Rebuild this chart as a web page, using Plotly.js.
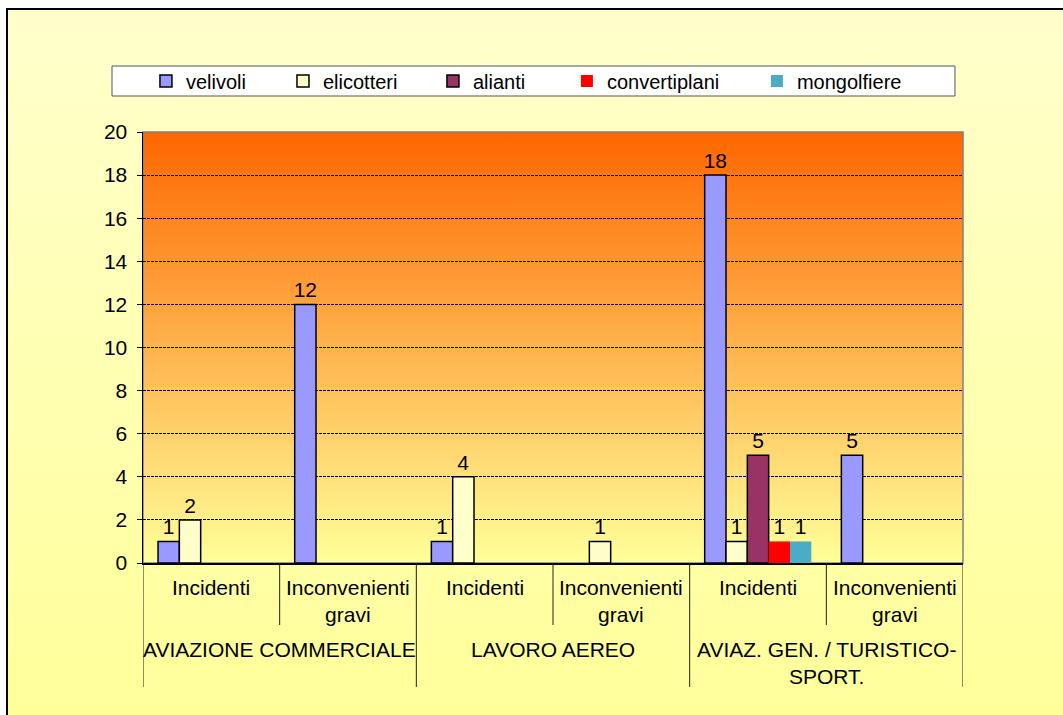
<!DOCTYPE html>
<html>
<head>
<meta charset="utf-8">
<script src="https://cdn.plot.ly/plotly-3.0.1.min.js"></script>
<style>
html,body{margin:0;padding:0;background:#fff;width:1063px;height:715px;overflow:hidden;}
#frame{position:absolute;left:6px;top:8px;width:1100px;height:720px;border-left:2px solid #000;border-top:2px solid #000;background:linear-gradient(to bottom,#FFFFCC,#FFFF99);}
#plotbg{position:absolute;left:143px;top:132px;width:820px;height:431px;background:linear-gradient(to bottom,#FF6600,#FFFF99);}
#chart{position:absolute;left:0;top:0;width:1063px;height:715px;}
</style>
</head>
<body>
<div id="frame"></div>
<div id="plotbg"></div>
<div id="chart"></div>
<script>
// ---- data ----
const groupLabels = ['AVIAZIONE COMMERCIALE', 'LAVORO AEREO', 'AVIAZ. GEN. / TURISTICO-<br>SPORT.'];
const subLabels = ['Incidenti', 'Inconvenienti<br>gravi'];
const categories = [
  'AVIAZIONE COMMERCIALE - Incidenti',
  'AVIAZIONE COMMERCIALE - Inconvenienti gravi',
  'LAVORO AEREO - Incidenti',
  'LAVORO AEREO - Inconvenienti gravi',
  'AVIAZ. GEN. / TURISTICO-SPORT. - Incidenti',
  'AVIAZ. GEN. / TURISTICO-SPORT. - Inconvenienti gravi'
];
const seriesNames = ['velivoli', 'elicotteri', 'alianti', 'convertiplani', 'mongolfiere'];
const velivoli      = [1, 12, 1, 0, 18, 5];
const elicotteri    = [2, 0, 4, 1, 1, 0];
const alianti       = [0, 0, 0, 0, 5, 0];
const convertiplani = [0, 0, 0, 0, 1, 0];
const mongolfiere   = [0, 0, 0, 0, 1, 0];
const yTicks = [0, 2, 4, 6, 8, 10, 12, 14, 16, 18, 20];

// ---- styling ----
const FONT = 'Liberation Sans, Arial, sans-serif';
const FS = 21;
const seriesValues = [velivoli, elicotteri, alianti, convertiplani, mongolfiere];
const colors = ['#9999FF', '#FFFFCC', '#993366', '#FF0000', '#4BACC6'];
const outline = [1.5, 1.5, 1.5, 0, 0];
const legendIds = ['legend', 'legend2', 'legend3', 'legend4', 'legend5'];
const legendX = [0.0036, 0.1707, 0.3536, 0.5170, 0.7487];

const traces = seriesNames.map((name, i) => ({
  type: 'bar',
  name: name,
  x: categories,
  // zero values are not drawn (as in the original chart)
  y: seriesValues[i].map(v => v === 0 ? null : v),
  text: seriesValues[i].map(v => v ? String(v) : ''),
  textposition: 'outside',
  textangle: 0,
  constraintext: 'none',
  cliponaxis: false,
  outsidetextfont: {family: FONT, size: FS, color: '#000'},
  marker: {color: colors[i], line: {color: '#000', width: outline[i]}},
  legend: legendIds[i],
  showlegend: true,
  hoverinfo: 'skip'
}));

const shapes = [];
// plot area border
shapes.push({type: 'rect', xref: 'paper', yref: 'paper', x0: 0, x1: 1, y0: 0, y1: 1,
  line: {color: '#808080', width: 1.5}, layer: 'below'});
// legend box
shapes.push({type: 'rect', xref: 'paper', yref: 'paper', x0: -0.0378, x1: 0.9902, y0: 1.0835, y1: 1.1531,
  fillcolor: '#FFFFFF', line: {color: '#555555', width: 1}, layer: 'below'});
// category dividers
for (let k = 0; k <= categories.length; k++) {
  const isGroup = (k % 2 === 0);
  shapes.push({type: 'line', xref: 'x', yref: 'paper', x0: k - 0.5, x1: k - 0.5,
    y0: 0, y1: isGroup ? -0.2877 : -0.1439, line: {color: '#222', width: 1}});
}

const annotations = [];
categories.forEach((c, i) => {
  annotations.push({xref: 'x', yref: 'paper', x: i, y: -0.0255, yanchor: 'top', xanchor: 'center',
    text: subLabels[i % 2], showarrow: false, font: {family: FONT, size: FS, color: '#000'}});
});
groupLabels.forEach((g, j) => {
  annotations.push({xref: 'x', yref: 'paper', x: 2 * j + 0.5, y: -0.1694, yanchor: 'top', xanchor: 'center',
    text: g, showarrow: false, font: {family: FONT, size: FS, color: '#000'}});
});

const layout = {
  width: 1063, height: 715, autosize: false,
  margin: {l: 143, r: 100, t: 132, b: 152, pad: 0},
  paper_bgcolor: 'rgba(0,0,0,0)',
  plot_bgcolor: 'rgba(0,0,0,0)',
  font: {family: FONT, size: FS, color: '#000'},
  showlegend: true,
  barmode: 'group',
  bargap: 0.22,
  bargroupgap: 0,
  xaxis: {type: 'category', categoryorder: 'array', categoryarray: categories,
    range: [-0.5, categories.length - 0.5], showticklabels: false, ticks: '',
    showgrid: false, zeroline: false, showline: true, linecolor: '#000', linewidth: 1.5, fixedrange: true},
  yaxis: {range: [0, 20], tickvals: yTicks, ticktext: yTicks.map(String),
    showgrid: true, gridcolor: '#000', gridwidth: 1, griddash: '3px,1px',
    zeroline: false, showline: true, linecolor: '#000', linewidth: 1.5,
    ticks: 'outside', ticklen: 5, tickcolor: '#000', tickwidth: 1,
    ticklabelstandoff: 5,
    tickfont: {family: FONT, size: FS, color: '#000'}, fixedrange: true},
  shapes: shapes,
  annotations: annotations
};
legendIds.forEach((id, i) => {
  layout[id] = {orientation: 'h', x: legendX[i], xanchor: 'left', y: 1.1183, yanchor: 'middle',
    bgcolor: 'rgba(0,0,0,0)', borderwidth: 0, font: {family: FONT, size: 20, color: '#000'}};
});

Plotly.newPlot('chart', traces, layout, {displayModeBar: false, staticPlot: true});
</script>
</body>
</html>
